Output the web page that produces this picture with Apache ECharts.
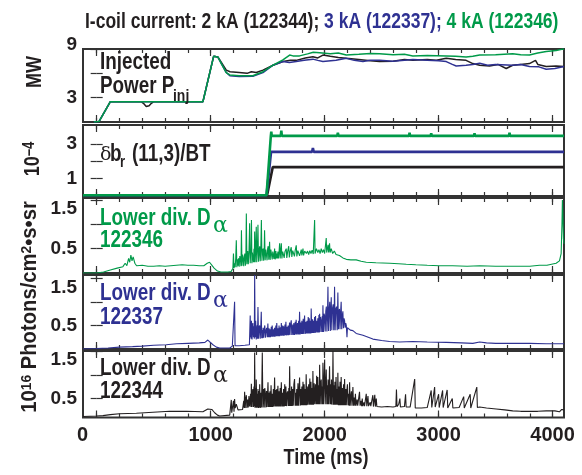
<!doctype html>
<html>
<head>
<meta charset="utf-8">
<title>I-coil current, Pinj, dbr and lower divertor D-alpha</title>
<script src="https://cdn.jsdelivr.net/npm/echarts@6/dist/echarts.min.js"></script>
<style>
html,body{margin:0;padding:0;background:#fff}
#chart{width:582px;height:475px}
</style>
</head>
<body>
<div id="chart"></div>
<script>
// time axis (ms)
var xTicksMajor = [0,1000,2000,3000,4000];
var xTicksMinor = [0,200,400,600,800,1000,1200,1400,1600,1800,2000,2200,2400,2600,2800,3000,3200,3400,3600,3800,4000];

// y ticks / labels per panel
var yTicksPinj = [3,6,9],  yLabelsPinj = [3,9];
var yTicksDb = [1,2,3],    yLabelsDb = [1,3];
var yTicksDa = [0.5,1.0,1.5], yLabelsDa = [0.5,1.5];

// injected power (MW)
var pinjBlack = [[-25,0],[20,0.05],[120,2.5],[390,2.5],[410,2.3],[435,1.9],[460,2.0],[480,2.3],[500,2.5],[932,2.5],[1026,8.1],[1064,8.0],[1094,7.35],[1137,6.4],[1170,6.2],[1250,6.1],[1320,6.0],[1357,6.2],[1400,6.1],[1459,6.4],[1547,7.0],[1634,7.45],[1700,7.6],[1751,7.6],[1830,7.9],[1897,8.05],[1940,7.9],[1985,8.25],[2050,8.1],[2120,7.95],[2190,7.85],[2300,7.7],[2400,7.55],[2482,7.45],[2600,7.5],[2700,7.7],[2774,7.6],[2900,7.7],[2980,7.6],[3067,7.85],[3150,7.7],[3241,7.6],[3300,7.2],[3360,7.0],[3447,6.9],[3520,7.1],[3593,6.6],[3650,7.0],[3720,7.1],[3797,7.2],[3850,7.6],[3870,7.1],[3944,6.85],[4030,6.9],[4100,6.85]];
var pinjBlue = [[-25,0],[20,0.05],[120,2.5],[932,2.5],[1026,8.1],[1064,8.0],[1094,7.2],[1137,6.1],[1168,5.7],[1250,5.6],[1370,5.65],[1459,6.1],[1547,7.0],[1634,7.45],[1690,7.35],[1751,7.45],[1820,7.6],[1897,7.75],[1940,7.6],[1985,7.45],[2100,7.6],[2190,7.85],[2260,7.6],[2336,7.45],[2400,7.6],[2482,7.6],[2600,7.5],[2700,7.6],[2774,7.7],[2900,7.6],[3000,7.55],[3067,7.45],[3120,7.1],[3154,6.9],[3241,7.0],[3300,7.1],[3360,7.25],[3430,7.0],[3500,7.1],[3650,7.0],[3720,7.1],[3797,6.85],[3880,6.8],[3944,6.5],[4020,6.6],[4100,6.85]];
var pinjGreen = [[-25,0],[20,0.05],[120,2.5],[932,2.5],[1026,8.1],[1064,8.0],[1094,7.2],[1137,6.1],[1168,5.8],[1250,5.7],[1370,5.7],[1459,6.2],[1547,7.0],[1634,7.65],[1693,8.25],[1722,8.15],[1780,8.15],[1850,8.4],[1900,8.6],[1956,8.55],[2050,8.4],[2120,8.5],[2190,8.25],[2300,8.35],[2400,8.45],[2482,8.4],[2600,8.3],[2700,8.35],[2774,8.15],[2900,8.2],[3067,8.15],[3150,8.1],[3241,8.0],[3300,8.1],[3360,8.25],[3500,8.3],[3650,8.4],[3720,8.3],[3797,8.25],[3870,8.5],[3944,8.7],[4030,8.8],[4090,9.0],[4100,9.0]];

// dbr(11,3)/BT (1e-4)
var dbBlack = [[-120,0.04],[1495,0.04],[1545,1.67],[1800,1.67],[1805,1.74],[1810,1.67],[2600,1.67],[2605,1.73],[2610,1.67],[3620,1.67],[3625,1.74],[3630,1.67],[4100,1.67]];
var dbBlue = [[-120,0.04],[1490,0.04],[1530,2.55],[1890,2.55],[1897,2.77],[1904,2.55],[2480,2.55],[2485,2.63],[2490,2.55],[3480,2.55],[3485,2.63],[3490,2.55],[4100,2.55]];
var dbGreen = [[-120,0.04],[1490,0.04],[1528,3.47],[1532,3.72],[1536,3.47],[1615,3.47],[1620,3.77],[1625,3.47],[2110,3.47],[2116,3.65],[2122,3.47],[2740,3.47],[2745,3.65],[2750,3.47],[2930,3.47],[2935,3.62],[2940,3.47],[3310,3.47],[3315,3.62],[3320,3.47],[3400,3.47],[3405,3.58],[3410,3.47],[3617,3.47],[3622,3.65],[3627,3.47],[4100,3.47]];

// lower divertor D-alpha (1e16 photons/cm2/s/sr)
var daGreen = [[-120,0.0],[0,0.0],[60,0.02],[120,0.06],[180,0.1],[230,0.13],[250,0.2],[265,0.15],[280,0.3],[290,0.22],[300,0.37],[310,0.25],[320,0.33],[335,0.2],[350,0.15],[400,0.16],[450,0.14],[500,0.14],[550,0.15],[600,0.14],[650,0.15],[700,0.16],[750,0.17],[800,0.16],[850,0.16],[900,0.15],[940,0.15],[970,0.2],[990,0.22],[1010,0.16],[1030,0.1],[1060,0.04],[1090,0.02],[1150,0.02],[1180,0.03],
	[1195,0.1],[1200,0.4],[1205,0.1],[1210,0.2],[1215,0.12],[1220,0.3],[1225,0.67],[1230,0.12],[1235,0.28],[1240,0.15],[1245,0.3],[1250,0.13],[1256,0.35],[1262,0.25],[1266,0.14],[1270,0.88],[1275,0.15],[1280,0.38],[1285,0.3],[1290,0.14],[1295,0.33],[1300,0.4],[1305,0.15],[1309,0.35],[1313,1.22],[1318,0.18],[1322,0.4],[1325,0.45],[1330,0.18],[1336,0.42],[1342,1.02],[1347,0.2],[1351,0.4],[1355,0.5],[1358,1.09],[1362,0.2],[1366,0.42],[1370,0.45],[1375,0.22],[1380,0.5],[1383,0.22],[1386,0.85],[1390,0.22],[1395,0.45],[1400,0.95],[1404,0.22],[1410,0.48],[1415,0.99],[1420,0.23],[1425,0.44],[1430,0.55],[1435,0.24],[1440,0.5],[1445,1.09],[1450,0.25],[1455,0.45],[1460,0.5],[1465,0.25],[1470,0.5],[1473,0.88],[1478,0.26],[1484,0.48],[1490,0.45],[1495,0.26],[1500,0.5],[1505,0.55],[1510,0.27],[1517,0.64],[1522,0.27],[1528,0.48],[1535,0.45],[1540,0.28],[1545,0.44],[1550,0.42],[1555,0.29],[1561,0.5],[1566,0.28],[1572,0.45],[1576,0.3],[1580,0.4],[1585,0.3],[1590,0.44],[1595,0.3],[1600,0.42],[1605,0.61],[1610,0.3],[1615,0.46],[1620,0.61],[1625,0.3],[1632,0.44],[1640,0.45],[1645,0.31],[1652,0.44],[1663,0.5],[1668,0.31],[1676,0.45],[1685,0.55],[1690,0.32],[1698,0.45],[1707,0.53],[1712,0.33],[1720,0.46],[1730,0.45],[1735,0.34],[1742,0.47],[1751,0.57],[1756,0.34],[1765,0.46],[1775,0.5],[1780,0.35],[1795,0.48],[1800,0.36],[1810,0.5],[1815,0.36],[1825,0.45],[1840,0.4],[1850,0.45],[1860,0.38],[1870,0.46],[1880,0.4],[1890,0.47],[1900,0.39],[1912,1.09],[1916,0.4],[1928,0.5],[1940,0.42],[1950,0.48],[1960,0.4],[1970,0.5],[1980,0.42],[1990,0.48],[2000,0.4],[2014,0.72],[2018,0.42],[2030,0.58],[2035,0.42],[2043,0.61],[2048,0.42],[2058,0.5],[2070,0.4],[2085,0.45],[2100,0.38],[2115,0.42],[2130,0.36],[2160,0.31],[2190,0.28],[2230,0.27],[2277,0.27],[2320,0.24],[2365,0.22],[2450,0.21],[2570,0.2],[2650,0.19],[2716,0.18],[2800,0.17],[2900,0.16],[3008,0.15],[3122,0.15],[3250,0.14],[3360,0.15],[3500,0.14],[3650,0.14],[3800,0.14],[3885,0.16],[3950,0.16],[4031,0.2],[4060,0.25],[4075,0.4],[4082,1.0],[4086,1.5],[4090,1.2],[4095,0.7],[4100,0.6]];
var daBlue = [[-120,0.0],[0,0.01],[100,0.02],[200,0.04],[315,0.05],[400,0.06],[500,0.08],[610,0.09],[700,0.11],[800,0.12],[900,0.13],[950,0.14],[975,0.19],[990,0.17],[1020,0.09],[1050,0.04],[1080,0.02],[1168,0.02],[1190,0.06],[1205,0.07],[1210,1.0],[1214,0.07],[1250,0.07],[1300,0.08],[1340,0.09],
	[1347,0.71],[1350,0.25],[1352,0.55],[1355,0.22],[1358,0.6],[1363,0.2],[1366,0.45],[1370,0.55],[1375,0.25],[1380,0.48],[1383,0.22],[1386,1.57],[1390,0.25],[1395,0.6],[1400,0.2],[1404,0.42],[1408,0.5],[1411,0.22],[1415,0.89],[1420,0.22],[1425,0.45],[1430,0.5],[1435,0.22],[1440,0.48],[1444,0.79],[1448,0.23],[1454,0.4],[1457,0.23],[1460,0.45],[1465,0.24],[1470,0.42],[1475,0.5],[1480,0.24],[1486,0.4],[1492,0.45],[1496,0.25],[1502,0.54],[1506,0.25],[1512,0.44],[1516,0.25],[1520,0.42],[1525,0.25],[1532,0.47],[1536,0.26],[1540,0.5],[1545,0.26],[1552,0.42],[1556,0.26],[1560,0.45],[1565,0.26],[1572,0.5],[1576,0.27],[1580,0.55],[1585,0.27],[1592,0.44],[1596,0.27],[1600,0.5],[1605,0.27],[1612,0.46],[1616,0.28],[1620,0.55],[1625,0.28],[1632,0.5],[1636,0.28],[1640,0.48],[1645,0.28],[1652,0.52],[1656,0.29],[1660,0.58],[1665,0.29],[1672,0.47],[1676,0.29],[1680,0.5],[1685,0.29],[1692,0.56],[1696,0.3],[1700,0.5],[1707,0.61],[1712,0.3],[1720,0.52],[1724,0.3],[1730,0.55],[1735,0.3],[1742,0.58],[1746,0.31],[1750,0.62],[1755,0.31],[1762,0.55],[1766,0.31],[1772,0.6],[1776,0.31],[1780,0.79],[1785,0.31],[1792,0.56],[1796,0.32],[1800,0.6],[1805,0.32],[1812,0.64],[1816,0.32],[1824,0.71],[1829,0.32],[1836,0.58],[1840,0.33],[1845,0.6],[1850,0.33],[1856,0.68],[1860,0.33],[1865,0.65],[1870,0.33],[1876,0.6],[1879,0.33],[1882,0.86],[1887,0.34],[1894,0.63],[1897,0.34],[1900,0.6],[1905,0.34],[1912,0.68],[1916,0.34],[1920,0.7],[1925,0.35],[1932,0.6],[1936,0.35],[1940,0.65],[1945,0.35],[1950,0.72],[1953,0.35],[1956,0.75],[1960,0.36],[1965,0.68],[1970,0.6],[1975,0.36],[1980,0.7],[1982,0.36],[1985,0.93],[1990,0.36],[1995,0.75],[2000,0.7],[2005,0.37],[2010,0.8],[2015,0.9],[2020,0.37],[2025,0.75],[2029,1.32],[2034,0.38],[2040,0.85],[2045,1.0],[2050,0.38],[2054,0.8],[2058,1.1],[2063,0.4],[2068,0.85],[2075,0.95],[2080,0.4],[2084,0.8],[2087,1.32],[2092,0.4],[2098,0.85],[2105,0.9],[2110,0.4],[2113,0.75],[2116,1.2],[2121,0.42],[2126,0.8],[2130,0.85],[2135,0.42],[2140,0.78],[2145,1.0],[2150,0.42],[2155,0.7],[2160,0.8],[2165,0.44],[2170,0.65],[2175,0.6],[2180,0.45],[2185,0.55],[2190,0.5],[2196,0.25],[2200,0.45],
	[2225,0.4],[2248,0.39],[2277,0.33],[2336,0.29],[2423,0.21],[2500,0.18],[2570,0.16],[2657,0.15],[2774,0.16],[2900,0.15],[3067,0.14],[3200,0.13],[3300,0.12],[3360,0.15],[3420,0.13],[3500,0.12],[3650,0.12],[3800,0.12],[3944,0.11],[4100,0.11]];
var daBlack = [[-120,0.12],[0,0.13],[55,0.14],[120,0.16],[200,0.18],[348,0.19],[494,0.21],[640,0.23],[787,0.23],[932,0.22],[975,0.28],[991,0.32],[1010,0.27],[1035,0.2],[1060,0.15],[1079,0.13],[1167,0.15],[1178,0.15],[1181,0.47],[1185,0.2],[1195,0.2],[1200,0.45],[1205,0.22],[1210,0.49],[1215,0.3],[1225,0.38],[1240,0.26],[1254,0.26],[1280,0.27],
	[1290,0.45],[1294,0.3],[1298,0.64],[1303,0.3],[1308,0.5],[1313,0.57],[1318,0.3],[1325,0.48],[1330,0.31],[1336,0.55],[1342,0.33],[1350,0.6],[1354,0.32],[1357,0.81],[1362,0.32],[1366,0.62],[1370,0.7],[1375,0.32],[1380,0.75],[1383,0.33],[1386,1.47],[1390,0.3],[1395,0.72],[1398,0.32],[1400,0.9],[1405,0.3],[1410,0.6],[1413,0.31],[1415,0.7],[1420,0.3],[1425,0.66],[1428,0.31],[1430,0.8],[1435,0.3],[1440,0.62],[1445,0.31],[1449,0.75],[1453,1.47],[1458,0.31],[1462,0.6],[1465,0.7],[1470,0.31],[1475,0.72],[1480,0.6],[1485,0.31],[1490,0.66],[1495,0.32],[1503,0.84],[1507,0.32],[1512,0.62],[1516,0.32],[1520,0.65],[1525,0.32],[1530,0.78],[1535,0.32],[1540,0.6],[1545,0.32],[1550,0.7],[1555,0.33],[1561,0.94],[1566,0.33],[1572,0.68],[1576,0.33],[1580,0.7],[1585,0.33],[1590,0.77],[1595,0.33],[1600,0.65],[1605,0.33],[1610,0.72],[1614,0.33],[1620,0.84],[1625,0.33],[1630,0.62],[1635,0.33],[1640,0.7],[1645,0.33],[1650,0.8],[1655,0.34],[1660,0.75],[1665,0.34],[1670,0.6],[1675,0.65],[1680,0.34],[1686,0.72],[1689,0.34],[1693,1.18],[1698,0.34],[1704,0.66],[1707,0.34],[1710,0.75],[1715,0.34],[1720,0.7],[1725,0.35],[1730,0.8],[1736,0.91],[1741,0.35],[1746,0.62],[1750,0.35],[1755,0.7],[1760,0.35],[1766,0.82],[1770,0.35],[1775,0.65],[1780,0.94],[1785,0.35],[1790,0.7],[1795,0.36],[1800,0.75],[1805,0.36],[1810,0.85],[1815,0.36],[1820,0.8],[1825,0.36],[1830,0.7],[1834,0.36],[1838,1.01],[1843,0.36],[1848,0.75],[1853,0.37],[1860,0.8],[1865,0.37],[1870,0.92],[1875,0.37],[1880,0.85],[1885,0.37],[1890,0.72],[1894,0.37],[1897,1.08],[1902,0.37],[1908,0.82],[1913,0.38],[1920,0.8],[1925,0.38],[1930,0.98],[1935,0.38],[1940,0.95],[1945,0.38],[1950,0.78],[1953,0.38],[1956,1.21],[1961,0.38],[1966,0.82],[1970,0.9],[1975,0.38],[1980,0.75],[1982,0.38],[1985,1.25],[1990,0.38],[1995,0.85],[2000,1.32],[2005,0.38],[2010,0.8],[2014,1.11],[2019,0.38],[2024,0.78],[2027,0.38],[2030,0.9],[2035,0.38],[2040,0.82],[2043,1.18],[2048,0.38],[2054,0.8],[2057,0.38],[2060,0.9],[2065,0.37],[2070,0.72],[2073,1.5],[2078,0.37],[2084,0.78],[2087,0.37],[2090,0.85],[2095,0.37],[2100,0.95],[2105,0.37],[2110,0.7],[2113,0.37],[2116,1.04],[2121,0.36],[2127,0.75],[2131,0.36],[2135,0.85],[2140,0.36],[2145,0.95],[2150,0.36],[2156,0.72],[2160,0.36],[2166,0.8],[2170,0.36],[2175,0.91],[2180,0.36],[2186,0.7],[2190,0.36],[2195,0.66],[2200,0.8],[2205,0.36],[2212,0.6],[2215,0.35],[2219,0.84],[2224,0.35],[2230,0.55],[2235,0.65],[2240,0.35],[2244,0.55],[2248,0.74],[2253,0.35],[2260,0.52],[2265,0.35],[2270,0.6],[2275,0.35],[2285,0.48],[2290,0.35],[2306,0.64],[2311,0.35],[2320,0.45],[2325,0.34],[2330,0.5],[2335,0.34],[2345,0.42],[2350,0.34],[2365,0.6],[2370,0.34],[2380,0.55],[2385,0.34],[2400,0.42],[2405,0.34],[2423,0.57],[2428,0.33],[2440,0.58],[2445,0.33],[2453,0.5],[2458,0.33],
	[2500,0.32],[2550,0.33],[2600,0.32],[2625,0.33],[2630,0.69],[2635,0.33],[2650,0.38],[2660,0.5],[2665,0.32],[2700,0.33],[2710,0.59],[2715,0.32],[2750,0.32],[2790,0.91],[2795,0.3],[2850,0.3],[2900,0.31],[2935,0.67],[2940,0.31],[2965,0.74],[2970,0.32],[3000,0.59],[3005,0.31],[3035,0.67],[3040,0.31],[3075,0.68],[3080,0.3],[3120,0.5],[3125,0.3],[3180,0.31],[3220,0.54],[3225,0.3],[3277,0.59],[3282,0.3],[3335,0.74],[3340,0.31],[3360,0.32],[3420,0.3],[3505,0.28],[3580,0.26],[3650,0.24],[3720,0.23],[3797,0.23],[3870,0.23],[3944,0.24],[4020,0.24],[4060,0.22],[4080,0.27],[4100,0.26]];

var FONT = '"Liberation Sans",Arial,sans-serif';
var SERIF = '"DejaVu Serif","Liberation Serif",serif';
var BLACK = '#231f20', BLUE = '#2e3192', GREEN = '#009a49', AXIS = '#333';

var panels = [
	{top:49,  height:73,   min:0,   max:9,    ticks:yTicksPinj, labels:yLabelsPinj},
	{top:125, height:71,   min:0,   max:4.1,  ticks:yTicksDb,   labels:yLabelsDb},
	{top:198, height:75,   min:0,   max:1.54, ticks:yTicksDa,   labels:yLabelsDa},
	{top:275, height:74,   min:0,   max:1.57, ticks:yTicksDa,   labels:yLabelsDa},
	{top:351, height:66.5, min:0.1, max:1.5,  ticks:yTicksDa,   labels:yLabelsDa}
];

function lblStyle(extra){
	var s = {fontFamily:FONT, fontWeight:'bold', fontSize:19, color:BLACK};
	for (var k in extra) s[k] = extra[k];
	return s;
}

var grids = [], xAxes = [], yAxes = [];
panels.forEach(function(p, i){
	grids.push({left:83, right:18, top:p.top, height:p.height, show:true,
		borderColor:AXIS, borderWidth:2, backgroundColor:'transparent'});
	['bottom','top'].forEach(function(pos){
		[[xTicksMajor,7],[xTicksMinor,4]].forEach(function(t, j){
			var showLbl = (i === panels.length-1 && pos === 'bottom' && j === 0);
			xAxes.push({
				type:'value', gridIndex:i, min:-120, max:4100, position:pos,
				axisLine:{show:false}, splitLine:{show:false},
				axisTick:{show:true, inside:true, length:t[1], customValues:t[0],
					lineStyle:{color:AXIS, width:1.2}},
				axisLabel: showLbl ? {
					show:true, customValues:xTicksMajor, margin:8,
					fontFamily:FONT, fontWeight:'bold', fontSize:20, color:BLACK,
					formatter:function(v){ return v === 0 ? '{z|0}' : String(v); },
					rich:{z:lblStyle({fontSize:20, padding:[0,28,0,0]})}
				} : {show:false}
			});
		});
	});
	['left','right'].forEach(function(pos){
		yAxes.push({
			type:'value', gridIndex:i, min:p.min, max:p.max, position:pos,
			axisLine:{show:false}, splitLine:{show:false},
			axisTick:{show:true, inside:true, length:6, customValues:p.ticks,
				lineStyle:{color:AXIS, width:1.2}},
			axisLabel: pos === 'left' ? {
				show:true, customValues:p.labels, margin:6,
				fontFamily:FONT, fontWeight:'bold', fontSize:19, color:BLACK,
				formatter:function(v){
					if (v === 1.5) return '{dn|1.5}';
					if (v === 9) return '{up|9}';
					return String(v);
				},
				rich:{dn:lblStyle({padding:[18,0,0,0]}), up:lblStyle({padding:[0,0,8,0]})}
			} : {show:false}
		});
	});
});

function line(panel, data, color, width){
	return {type:'line', xAxisIndex:panel*4, yAxisIndex:panel*2, data:data,
		showSymbol:false, symbol:'none', animation:false, silent:true,
		lineStyle:{color:color, width:width}};
}

var series = [
	line(0, pinjBlack, BLACK, 1.5), line(0, pinjBlue, BLUE, 1.5), line(0, pinjGreen, GREEN, 1.5),
	line(1, dbBlack, BLACK, 2.6), line(1, dbBlue, BLUE, 2.6), line(1, dbGreen, GREEN, 2.6),
	line(2, daGreen, GREEN, 1.1),
	line(3, daBlue, BLUE, 1.1),
	line(4, daBlack, BLACK, 1.1)
];

// text pieces; sans text is squeezed horizontally to look like a condensed face
function txt(x, y, s, color, size, o){
	o = o || {};
	var sx = o.serif ? 1 : (o.sx || 0.82);
	return {type:'text', x:x, y:y, rotation:o.rot || 0, scaleX:sx, scaleY:1, z:100,
		style:{text:s, fill:color,
			font:(o.serif ? '' : 'bold ') + size + 'px ' + (o.serif ? SERIF : FONT),
			textAlign:o.align || 'left', align:o.align || 'left',
			textVerticalAlign:'middle', verticalAlign:'middle', rich:o.rich}};
}
function tok(color, size, extra){
	var r = {fill:color, fontFamily:FONT, fontWeight:'bold', fontSize:size};
	for (var k in extra) r[k] = extra[k];
	return r;
}

var graphics = [
	// header
	txt(85, 22, '{k|I-coil current: 2 kA (122344);} {b|3 kA (122337);} {g|4 kA (122346)}', BLACK, 22, {
		sx:0.795, rich:{k:tok(BLACK,22), b:tok(BLUE,22), g:tok(GREEN,22)}}),
	// panel 1
	txt(100, 63, 'Injected', BLACK, 23),
	txt(100, 87, 'Power P', BLACK, 23),
	txt(173, 96, 'inj', BLACK, 17),
	// panel 2
	txt(100, 155, 'δ', BLACK, 19, {serif:true}),
	txt(110, 155, 'b', BLACK, 23),
	txt(120, 163, 'r', BLACK, 16),
	txt(132, 155, '(11,3)/BT', BLACK, 23),
	// panels 3-5
	txt(100, 219, 'Lower div. D', GREEN, 23),
	txt(213, 226, 'α', GREEN, 22, {serif:true}),
	txt(100, 241, '122346', GREEN, 23),
	txt(100, 294, 'Lower div. D', BLUE, 23),
	txt(213, 301, 'α', BLUE, 22, {serif:true}),
	txt(100, 318, '122337', BLUE, 23),
	txt(100, 369, 'Lower div. D', BLACK, 23),
	txt(213, 376, 'α', BLACK, 22, {serif:true}),
	txt(100, 392, '122344', BLACK, 23),
	// axis names
	txt(35, 72, 'MW', BLACK, 22, {rot:Math.PI/2, align:'center'}),
	txt(33, 159, '{a|10}{s|–4}', BLACK, 22, {rot:Math.PI/2, align:'center',
		rich:{a:tok(BLACK,22), s:tok(BLACK,16,{verticalAlign:'top'})}}),
	txt(30, 307, '{a|10}{s|16}{a| Photons/cm}{s|2}{a|•s•sr}', BLACK, 22, {rot:Math.PI/2, align:'center', sx:0.92,
		rich:{a:tok(BLACK,22), s:tok(BLACK,15,{verticalAlign:'top'})}}),
	txt(326, 458, 'Time (ms)', BLACK, 22, {align:'center'})
];

var chart = echarts.init(document.getElementById('chart'), null, {renderer:'canvas'});
chart.setOption({
	animation:false,
	backgroundColor:'#fff',
	grid:grids, xAxis:xAxes, yAxis:yAxes,
	series:series,
	graphic:{elements:graphics}
});
</script>
</body>
</html>
